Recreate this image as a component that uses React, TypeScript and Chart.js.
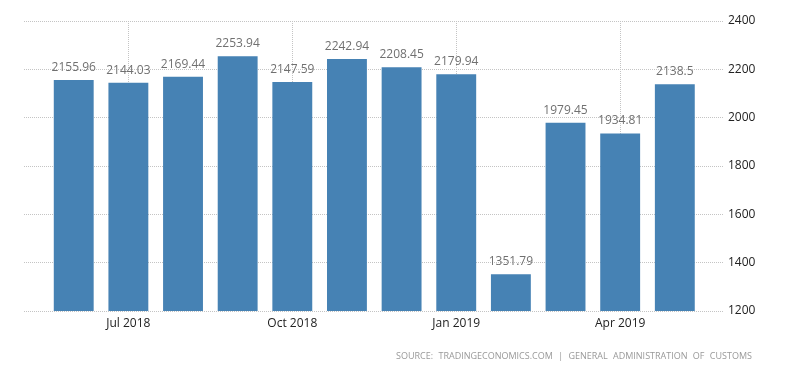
import React, { useEffect, useRef } from "react";
import { Chart, registerables } from "chart.js";

Chart.register(...registerables);

const months = ["Jun 2018", "Jul 2018", "Aug 2018", "Sep 2018", "Oct 2018", "Nov 2018", "Dec 2018", "Jan 2019", "Feb 2019", "Mar 2019", "Apr 2019", "May 2019"];
const values = [2155.96, 2144.03, 2169.44, 2253.94, 2147.59, 2242.94, 2208.45, 2179.94, 1351.79, 1979.45, 1934.81, 2138.5];
const xTickIdx = [1, 4, 7, 10];
const yMin = 1200;
const yMax = 2400;
const yStep = 200;
const sourceText = "SOURCE: TRADINGECONOMICS.COM | GENERAL ADMINISTRATION OF CUSTOMS";

const FONT = "'Open Sans', 'DejaVu Sans', sans-serif";

const labelPlugin = {
  id: "barLabels",
  afterDatasetsDraw(chart: any) {
    const ctx = chart.ctx;
    const meta = chart.getDatasetMeta(0);
    ctx.save();
    ctx.font = `12px ${FONT}`;
    ctx.fillStyle = "#707070";
    ctx.textAlign = "center";
    ctx.textBaseline = "alphabetic";
    meta.data.forEach((el: any, i: number) => {
      ctx.fillText(String(values[i]), el.x, el.y - 9);
    });
    ctx.restore();
  },
};

export default function App() {
  const ref = useRef<HTMLCanvasElement>(null);
  useEffect(() => {
    const chart = new Chart(ref.current!, {
      type: "bar",
      data: {
        datasets: [
          {
            data: values.map((v, i) => ({ x: i, y: v })),
            backgroundColor: "#4682B4",
            borderWidth: 0,
            barPercentage: 0.73,
            categoryPercentage: 1,
          },
        ],
      },
      options: {
        animation: false,
        responsive: true,
        maintainAspectRatio: false,
        layout: { padding: { left: 24, top: 21, right: 0, bottom: 0 } },
        plugins: { legend: { display: false }, tooltip: { enabled: false } },
        scales: {
          x: {
            type: "linear",
            min: -0.91,
            max: 11.9,
            bounds: "data",
            offset: false,
            afterBuildTicks: (scale: any) => {
              scale.ticks = xTickIdx.map((v) => ({ value: v }));
            },
            afterFit: (scale: any) => {
              scale.height = 62;
            },
            ticks: {
              autoSkip: false,
              maxRotation: 0,
              padding: 5,
              color: "#222",
              font: { family: FONT, size: 12 },
              callback: (v: any) => months[v as number] ?? "",
            },
            grid: {
              offset: false,
              color: "#c4c4c4",
              lineWidth: 1,
              drawTicks: false,
            },
            border: { display: false, dash: [1, 1] },
          },
          y: {
            position: "right",
            min: yMin,
            max: yMax,
            ticks: {
              stepSize: yStep,
              padding: 4,
              color: "#222",
              font: { family: FONT, size: 12 },
              callback: (v: any) => String(v),
            },
            afterFit: (scale: any) => {
              scale.width = 76;
            },
            grid: { color: "#c4c4c4", lineWidth: 1, drawTicks: false },
            border: { display: false, dash: [1, 1] },
          },
        },
      },
      plugins: [labelPlugin],
    } as any);
    return () => chart.destroy();
  }, []);
  return (
    <div style={{ position: "fixed", left: 0, top: 0, width: 800, height: 373, background: "#fff" }}>
      <canvas ref={ref} />
      <div
        style={{
          position: "absolute",
          right: 48,
          top: 349,
          fontFamily: FONT,
          fontSize: 9,
          color: "#999",
          letterSpacing: 0,
          wordSpacing: 3,
          whiteSpace: "nowrap",
        }}
      >
        {sourceText}
      </div>
    </div>
  );
}
